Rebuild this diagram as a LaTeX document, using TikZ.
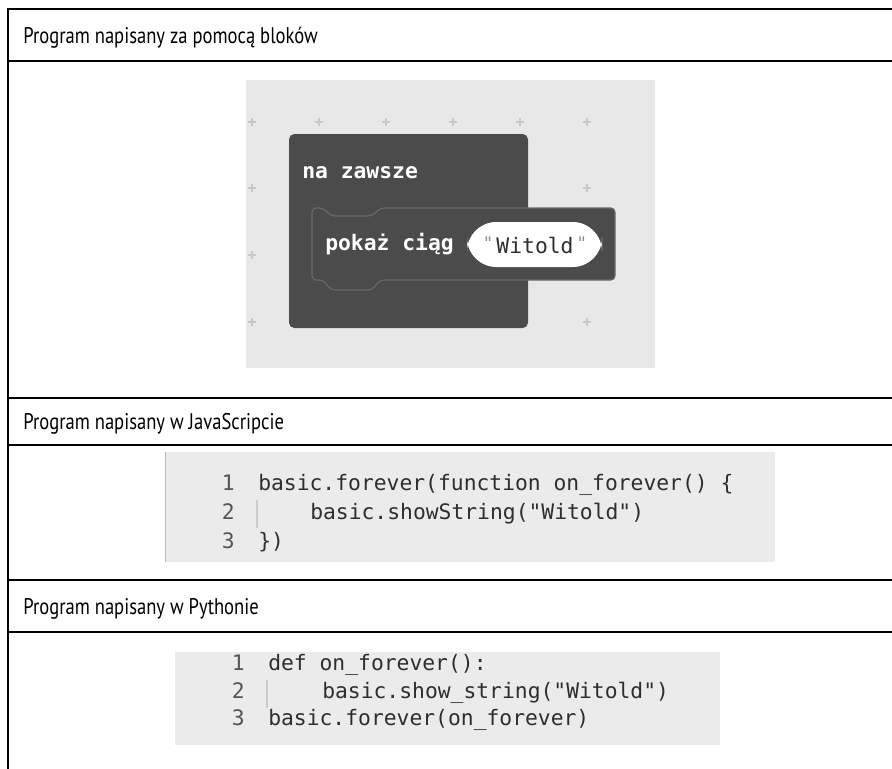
\documentclass[tikz,border=0pt]{standalone}
\usepackage{fontspec}
\setmainfont{PT Sans}[FakeStretch=0.82]
\newfontfamily\codefont{DejaVu Sans Mono}
\usetikzlibrary{positioning}

\definecolor{wsgray}{HTML}{E8E8E8}
\definecolor{blockdark}{HTML}{4B4B4B}
\definecolor{blockedge}{HTML}{6B6B6B}
\definecolor{codebg}{HTML}{EBEBEB}
\definecolor{codetxt}{HTML}{2E2E2E}
\definecolor{lnum}{HTML}{555555}
\definecolor{gridmark}{HTML}{C8C8C8}

\tikzset{
  rule/.style={line width=1.6pt, black},
  head/.style={anchor=base west, inner sep=0, font=\fontsize{17}{20}\selectfont},
  code/.style={anchor=base west, inner sep=0, text=codetxt, font=\codefont\fontsize{16}{19}\selectfont},
  lineno/.style={anchor=base east, inner sep=0, text=lnum, font=\codefont\fontsize{16}{19}\selectfont},
  blocktext/.style={anchor=west, inner sep=0, text=white, font=\codefont\bfseries\fontsize{16}{19}\selectfont},
  quotemark/.style={inner sep=0, text=black!45, font=\codefont\fontsize{13}{13}\selectfont},
}

\begin{document}
\begin{tikzpicture}[x=0.75pt, y=-0.75pt]
\useasboundingbox (0,0) rectangle (892,768);

% table frame
\draw[rule] (900,9) -- (8,9) -- (8,790);
\foreach \y in {61, 398, 445, 580, 632}
{\draw[rule] (8,\y) -- (900,\y);}

\node[head] (h1) at (23,43) {Program napisany za pomocą bloków};
\node[head] (h2) at (23,429) {Program napisany w JavaScripcie};
\node[head] (h3) at (23,614) {Program napisany w Pythonie};

% block editor
\fill[wsgray] (246,80) rectangle (655,368);
\foreach \x in {252, 319, 386, 453, 520, 587}
{\draw[gridmark, line width=0.8pt] (\x-4,122) -- (\x+4,122) (\x,118) -- (\x,126);}
\foreach \x/\y in {252/188, 587/188, 252/255, 252/322, 587/322}
{\draw[gridmark, line width=0.8pt] (\x-4,\y) -- (\x+4,\y) (\x,\y-4) -- (\x,\y+4);}

\fill[blockdark, rounded corners=4] (289,134) rectangle (528,328);
\node[blocktext] (loop) at (302,173) {na zawsze};

\draw[fill=blockdark, draw=blockedge, line width=0.8pt, rounded corners=3]
  (312,208) -- (323,208) -- (331,216) -- (372,216) -- (380,208) -- (615,208)
  -- (615,280) -- (380,280) -- (372,290) -- (331,290) -- (323,280) -- (312,280) -- cycle;
\node[blocktext] (show) at (325,244) {pokaż ciąg};

\fill[white, rounded corners=22] (467,222) rectangle (602,267);
\node[anchor=center, inner sep=0, text=codetxt, font=\codefont\fontsize{16}{19}\selectfont]
  (str) at (535,245) {Witold};
\node[quotemark, left=2pt of str.north west, anchor=north east] (q1) {"};
\node[quotemark, right=2pt of str.north east, anchor=north west] (q2) {"};

% JavaScript listing
\fill[codebg] (165,452) rectangle (775,562);
\draw[black!25, line width=1pt] (165.5,452) -- (165.5,562);
\draw[black!20, line width=0.8pt] (257,500) -- (257,528);
\foreach \n/\y in {1/490, 2/519, 3/548}
{\node[lineno] (jn\n) at (235,\y) {\n};}
\node[code] (js1) at (258,490) {basic.forever(function on\_forever() \{};
\node[code] (js2) at (310,519) {basic.showString("Witold")};
\node[code] (js3) at (258,548) {\})};

% Python listing
\fill[codebg] (175,652) rectangle (720,745);
\draw[black!20, line width=0.8pt] (267,680) -- (267,708);
\foreach \n/\y in {1/670, 2/698, 3/725}
{\node[lineno] (pn\n) at (245,\y) {\n};}
\node[code] (py1) at (268,670) {def on\_forever():};
\node[code] (py2) at (322,698) {basic.show\_string("Witold")};
\node[code] (py3) at (268,725) {basic.forever(on\_forever)};

\end{tikzpicture}
\end{document}
